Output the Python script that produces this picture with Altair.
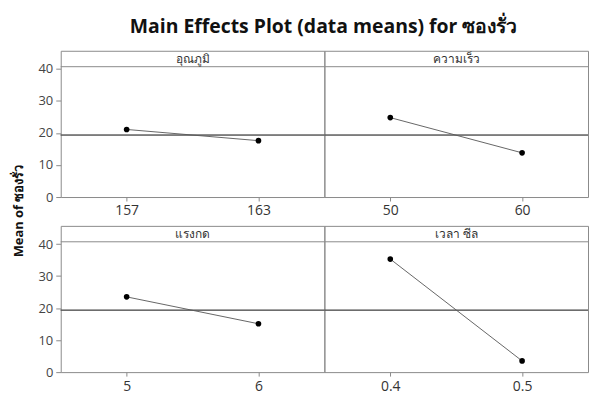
import altair as alt
import pandas as pd

title_text = "Main Effects Plot (data means) for ซองรั่ว"
y_title = "Mean of ซองรั่ว"
factors = ["อุณภูมิ", "ความเร็ว", "แรงกด", "เวลา ซีล"]
levels = [["157", "163"], ["50", "60"], ["5", "6"], ["0.4", "0.5"]]
means = [[21.1, 17.6], [24.8, 13.8], [23.5, 15.1], [35.3, 3.5]]
grand_mean = 19.35
y_ticks = [0, 10, 20, 30, 40]

W, H, SH = 265, 131, 16          # panel width, plot height, strip height
Y_TOP = 40.7                      # value at the top of the plot region
GRID = "#8a8a8a"
FONT = "Open Sans"

rows = []
for k, (f, lv, mv) in enumerate(zip(factors, levels, means)):
    for j, (l, m) in enumerate(zip(lv, mv)):
        rows.append({"factor": f, "level": l, "mean": m, "grand": grand_mean,
                     "first": j == 0, "r": k // 2, "c": k % 2})
df = pd.DataFrame(rows)

y_dom_top = Y_TOP * (H + SH) / H
x = alt.X("level:N", scale=alt.Scale(type="point", padding=0.5),
          axis=alt.Axis(title=None, labelAngle=0, domain=False, tickSize=4,
                        tickColor=GRID, labelFontSize=14, labelColor="#333",
                        labelFont=FONT, labelPadding=3))
yscale = alt.Scale(domain=[0, y_dom_top], nice=False, zero=False)
yaxis = alt.Axis(title=None, values=y_ticks, domain=False, grid=False,
                 tickSize=5, tickColor=GRID, labelFontSize=13,
                 labelColor="#444", labelFont=FONT, labelPadding=3)
y = alt.Y("mean:Q", scale=yscale, axis=yaxis)

base = alt.Chart()
line = base.mark_line(color="#555", strokeWidth=0.9).encode(x=x, y=y)
mean_rule = base.mark_rule(color="#5a5a5a", strokeWidth=1).encode(
    y=alt.Y("grand:Q", scale=yscale, axis=yaxis))
pts = base.mark_point(filled=True, color="black", size=32, opacity=1).encode(x=x, y=y)
strip_line = base.mark_rule(color=GRID, strokeWidth=1).encode(
    y=alt.value(SH), x=alt.value(0), x2=alt.value(W)).transform_filter("datum.first")
strip_text = base.mark_text(fontSize=12, color="#333", font=FONT,
                            baseline="middle").encode(
    text="factor:N", x=alt.value(W / 2), y=alt.value(SH / 2 + 0.5)
).transform_filter("datum.first")

hdr = alt.Header(labels=False, title=None, labelPadding=0, titlePadding=0)
facet = alt.layer(line, mean_rule, pts, strip_line, strip_text).properties(
    width=W, height=H + SH
).facet(
    row=alt.Row("r:O", header=hdr),
    column=alt.Column("c:O", header=hdr),
    data=df, spacing={"row": 29, "column": 0}, bounds="flush",
).resolve_scale(x="independent")

ylab = alt.Chart(pd.DataFrame({"t": [y_title]})).mark_text(
    angle=270, fontWeight="bold", fontSize=13, font=FONT, color="#111",
    baseline="middle"
).encode(text="t:N", x=alt.value(10), y=alt.value(161)).properties(
    width=28, height=300, view=alt.ViewBackground(stroke="transparent"))

chart = alt.hconcat(ylab, facet, spacing=0).properties(
    title=alt.TitleParams(title_text, fontSize=19.5, fontWeight="bold", font=FONT,
                          color="#111", anchor="middle", dx=25, offset=13),
    padding={"left": 0, "top": 8, "right": 0, "bottom": 0},
).configure_view(stroke=GRID, strokeWidth=1)

chart.save("out.html", embed_options={"renderer": "svg", "actions": False})
